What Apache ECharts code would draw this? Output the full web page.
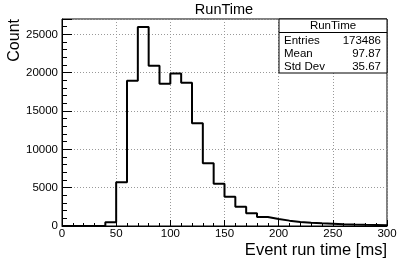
<!DOCTYPE html>
<html><head><meta charset="utf-8">
<script src="https://cdn.jsdelivr.net/npm/echarts@6/dist/echarts.min.js"></script>
<style>html,body{margin:0;padding:0;background:#fff}#c{width:405px;height:259px}</style>
</head><body><div id="c"></div>
<script>
// Histogram data: lower bin edges (ms) and counts
const binLow = [0,10,20,30,40,50,60,70,80,90,100,110,120,130,140,150,160,170,180,190,200,210,220,230,240,250,260,270,280,290];
const counts = [0,0,0,0,500,5700,18950,25950,20900,18550,19900,18700,13400,8200,5500,3800,2500,1670,1180,920,700,530,430,350,300,220,180,150,130,100];
const xMaxEdge = 300;
const statsTitle = 'RunTime';
const statsLabels = ['Entries','Mean','Std Dev'];
const statsValues = ['173486','97.87','35.67'];

const FONT = 'Liberation Sans';
const data = binLow.map((x,i)=>[x, counts[i]]);
data.push([xMaxEdge, counts[counts.length-1]]);

const chart = echarts.init(document.getElementById('c'), null, {renderer:'canvas'});
const G = {left:62, right:18, top:19, bottom:33};
const bx0 = 279, bx1 = 387, by0 = 19, by1 = 73, byH = 32.5;
chart.setOption({
  animation:false,
  backgroundColor:'#fff',
  graphic:[
    {type:'text', x:224, y:10, style:{text:'RunTime', align:'center', verticalAlign:'middle', font:'14.5px '+FONT, fill:'#000'}, z:102},
    {type:'rect', shape:{x:bx0, y:by0, width:bx1-bx0, height:by1-by0}, style:{fill:'#fff', stroke:'#000', lineWidth:1}, z:100},
    {type:'line', shape:{x1:bx0, y1:byH, x2:bx1, y2:byH}, style:{stroke:'#000', lineWidth:1}, z:101},
    {type:'text', x:(bx0+bx1)/2, y:(by0+byH)/2+0.5, style:{text:statsTitle, align:'center', verticalAlign:'middle', font:'11.5px '+FONT, fill:'#000'}, z:102},
    ...statsLabels.map((t,i)=>({type:'text', x:284, y:40.7+i*13, style:{text:t, align:'left', verticalAlign:'middle', font:'11.5px '+FONT, fill:'#000'}, z:102})),
    ...statsValues.map((t,i)=>({type:'text', x:381, y:40.7+i*13, style:{text:t, align:'right', verticalAlign:'middle', font:'11.5px '+FONT, fill:'#000'}, z:102}))
  ],
  grid:Object.assign({show:true, borderColor:'#000', borderWidth:1, backgroundColor:'transparent'}, G),
  xAxis:[{
    type:'value', min:0, max:300, interval:50, position:'bottom',
    axisLine:{show:true, lineStyle:{color:'#000', width:1}},
    axisTick:{show:true, inside:true, length:6, lineStyle:{color:'#000'}},
    axisLabel:{margin:2, fontFamily:FONT, fontSize:11.5, color:'#000', showMaxLabel:true, showMinLabel:true},
    splitLine:{show:true, lineStyle:{color:'#999', type:[1,2], width:1}},
    name:'Event run time [ms]', nameLocation:'end', nameGap:0,
    nameTextStyle:{fontFamily:FONT, fontSize:16.5, color:'#000', align:'right', verticalAlign:'top', padding:[16,0,0,0]}
  },{
    type:'value', min:0, max:300, interval:10, position:'bottom',
    axisLine:{show:false}, axisLabel:{show:false}, splitLine:{show:false},
    axisTick:{show:true, inside:true, length:3, lineStyle:{color:'#000'}}
  }],
  yAxis:[{
    type:'value', min:0, max:27000, interval:5000, position:'left',
    axisLine:{show:true, lineStyle:{color:'#000', width:1}},
    axisTick:{show:true, inside:true, length:10, lineStyle:{color:'#000'}},
    axisLabel:{margin:4, fontFamily:FONT, fontSize:11.5, color:'#000',
      formatter:v=> (v%5000===0 ? String(v) : '')},
    splitLine:{show:true, lineStyle:{color:'#999', type:[1,2], width:1}},
    name:'Count', nameLocation:'end', nameGap:0, nameRotate:90,
    nameTextStyle:{fontFamily:FONT, fontSize:16, color:'#000', align:'right', verticalAlign:'bottom', padding:[0,0,39,0]}
  },{
    type:'value', min:0, max:27000, interval:1000, position:'left',
    axisLine:{show:false}, axisLabel:{show:false}, splitLine:{show:false},
    axisTick:{show:true, inside:true, length:5, lineStyle:{color:'#000'}}
  }],
  series:[{
    type:'line', step:'end', xAxisIndex:0, yAxisIndex:0, data:data,
    symbol:'none', clip:true,
    lineStyle:{color:'#000', width:2}
  }]
});
</script></body></html>
